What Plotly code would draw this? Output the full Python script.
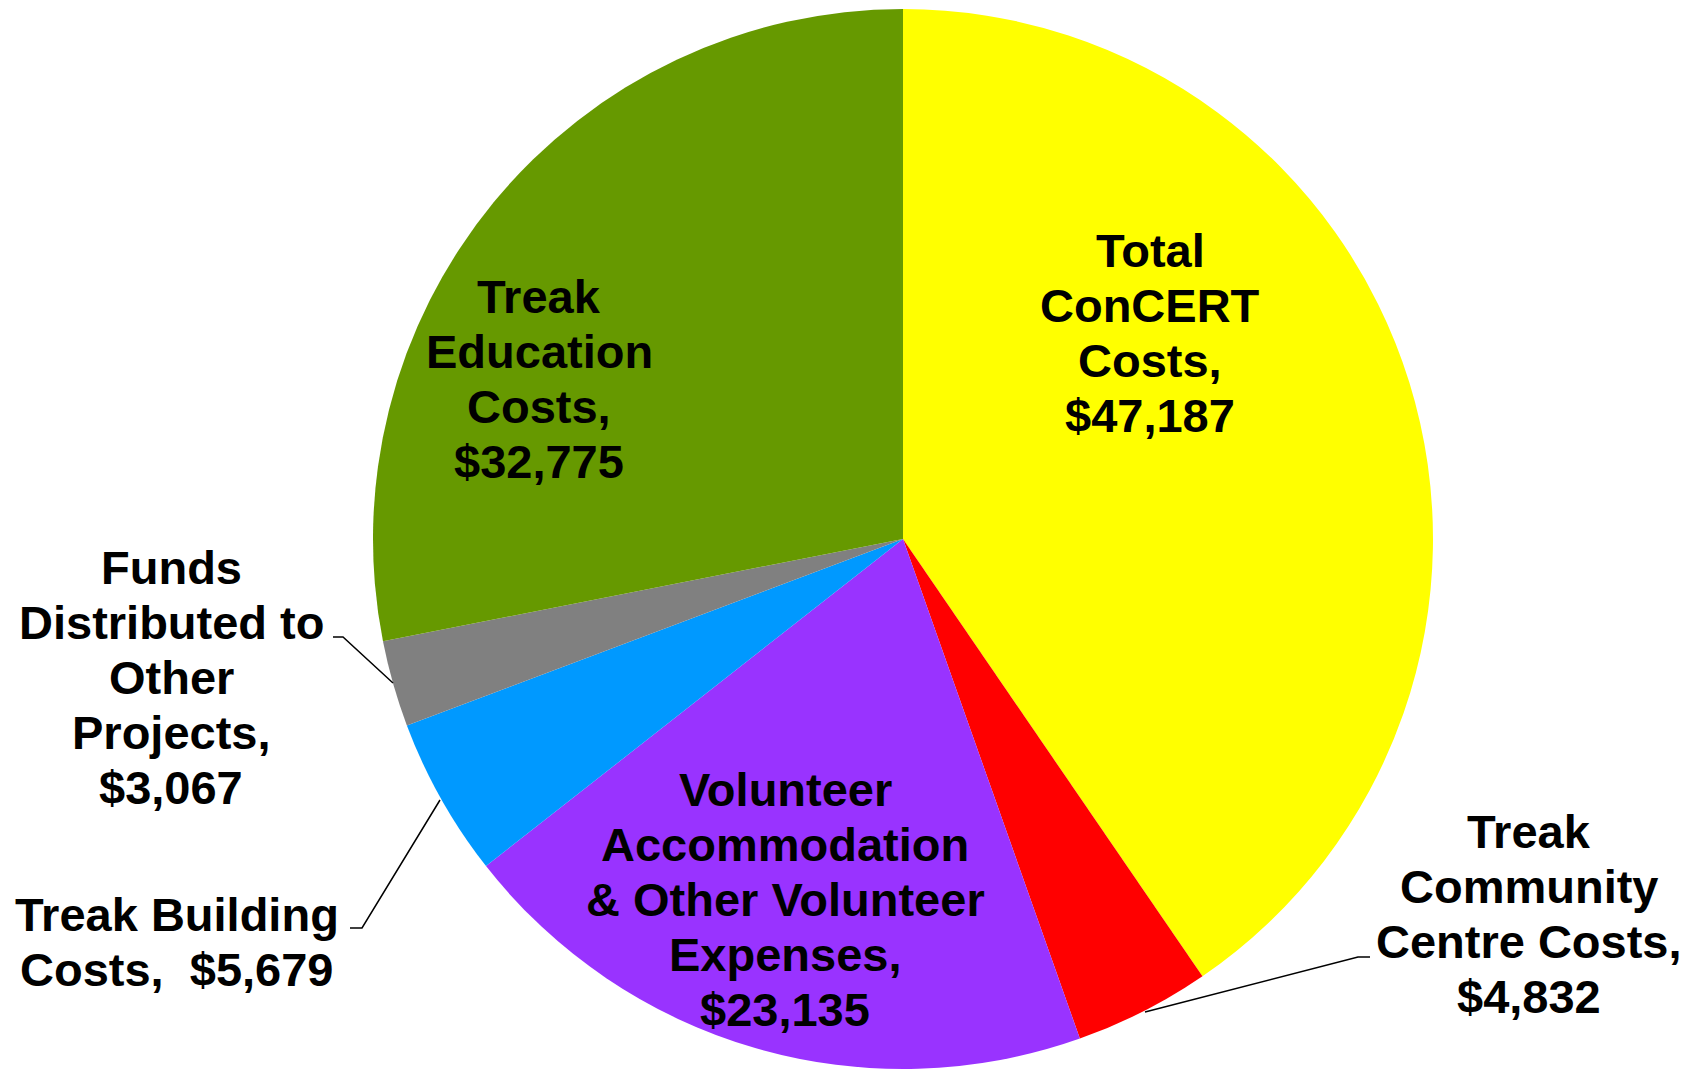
import plotly.graph_objects as go

W, H = 1698, 1073

categories = [
    "Total ConCERT Costs",
    "Treak Community Centre Costs",
    "Volunteer Accommodation & Other Volunteer Expenses",
    "Treak Building Costs",
    "Funds Distributed to Other Projects",
    "Treak Education Costs",
]
values = [47187, 4832, 23135, 5679, 3067, 32775]
colors = ["#FFFF00", "#FF0000", "#9933FF", "#0099FF", "#808080", "#669900"]

label_lines = [
    ["Total", "ConCERT", "Costs,", "$47,187"],
    ["Treak", "Community", "Centre Costs,", "$4,832"],
    ["Volunteer", "Accommodation", "& Other Volunteer", "Expenses,", "$23,135"],
    ["Treak Building", "Costs,  $5,679"],
    ["Funds", "Distributed to", "Other", "Projects,", "$3,067"],
    ["Treak", "Education", "Costs,", "$32,775"],
]
# label centre positions in pixels
label_pos = [(1150, 333), (1529, 914), (785, 899), (177, 942), (171, 677), (539, 379)]
LINE_PX = 55

# leader lines (pixel polylines)
leaders = [
    [(1145, 1012), (1358, 957), (1370, 957)],
    [(440, 800), (362, 928), (350, 928)],
    [(393, 683), (343, 637), (333, 637)],
]

fig = go.Figure(go.Pie(
    labels=categories,
    values=values,
    sort=False,
    direction="clockwise",
    rotation=0,
    marker=dict(colors=colors, line=dict(width=0)),
    textinfo="none",
    hoverinfo="label+value",
    showlegend=False,
    domain=dict(x=[373 / W, 1433 / W], y=[1 - 1070 / H, 1 - 8 / H]),
))

font = dict(family="Liberation Sans, Arial, sans-serif", size=47, color="black")
for lines, (px, py) in zip(label_lines, label_pos):
    n = len(lines)
    for i, line in enumerate(lines):
        ly = py + (i - (n - 1) / 2) * LINE_PX
        fig.add_annotation(
            text="<b>" + line + "</b>",
            x=px / W, y=1 - ly / H, xref="paper", yref="paper",
            showarrow=False, font=font, align="center",
            xanchor="center", yanchor="middle",
        )

for pts in leaders:
    path = "M " + " L ".join(f"{x / W},{1 - y / H}" for x, y in pts)
    fig.add_shape(type="path", path=path, xref="paper", yref="paper",
                  line=dict(color="black", width=1.5))

fig.update_layout(
    width=W, height=H,
    margin=dict(l=0, r=0, t=0, b=0),
    paper_bgcolor="white", plot_bgcolor="white",
)

fig.write_html(
    "out.html",
    config={"displayModeBar": False},
    post_script="document.body.style.margin='0';document.body.style.overflow='hidden';",
)
